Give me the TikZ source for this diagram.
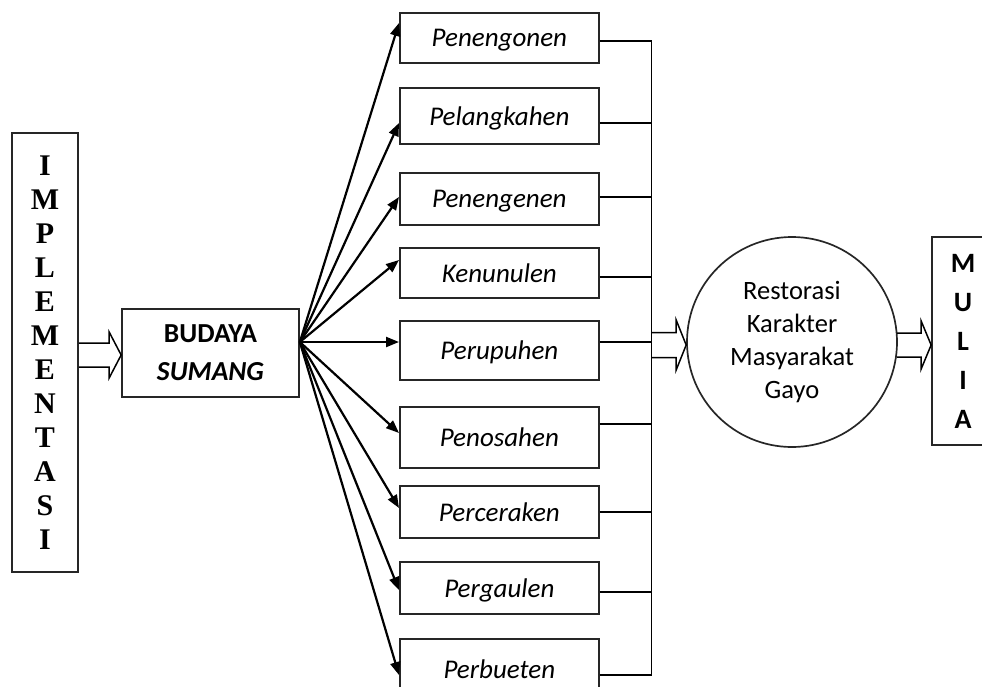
\documentclass[tikz,border=0pt]{standalone}
\usepackage{fontspec}
\setmainfont{Carlito}
\newfontfamily\tnr{Liberation Serif}
\usetikzlibrary{calc,arrows.meta}
\begin{document}
\begin{tikzpicture}[x=1pt,y=-1pt,
  lw/.style={line width=1.7pt,draw=black!85},
  mbox/.style={lw,rectangle,anchor=north west,minimum width=199pt,inner sep=0pt,text depth=0pt,font=\fontsize{27}{30}\selectfont\itshape},
  fan/.style={line width=2.2pt,-{Triangle[length=13pt,width=10pt]}},
  conn/.style={line width=1.5pt}]
\useasboundingbox (0,0) rectangle (982,687);
% left box
\node[lw,rectangle,minimum width=66pt,minimum height=439pt,inner sep=0pt,align=center,
  font=\tnr\bfseries\fontsize{30}{34}\selectfont] (impl) at (45,352.5)
  {I\\M\\P\\L\\E\\M\\E\\N\\T\\A\\S\\I};
\node[lw,rectangle,minimum width=177pt,minimum height=88pt,inner sep=0pt,align=center,
  font=\bfseries\fontsize{27.5}{38}\selectfont] (bud) at (210.5,353) {BUDAYA\\\textit{SUMANG}};
% middle boxes
\node[mbox,minimum height=50pt] (b1) at (399,12) {Penengonen};
\node[mbox,minimum height=56pt] (b2) at (399,87) {Pelangkahen};
\node[mbox,minimum height=52pt] (b3) at (399,172) {Penengenen};
\node[mbox,minimum height=50pt] (b4) at (399,247) {Kenunulen};
\node[mbox,minimum height=59pt] (b5) at (399,320) {Perupuhen};
\node[mbox,minimum height=61pt] (b6) at (399,406) {Penosahen};
\node[mbox,minimum height=52pt] (b7) at (399,485) {Perceraken};
\node[mbox,minimum height=52pt] (b8) at (399,561) {Pergaulen};
\node[mbox,minimum height=60pt] (b9) at (399,638) {Perbueten};
% circle and right box
\node[lw,circle,minimum size=210pt,inner sep=0pt,align=center,
  font=\fontsize{26.5}{33}\selectfont] (circ) at (792,342)
  {Restorasi\\Karakter\\Masyarakat\\Gayo};
\node[lw,rectangle,minimum width=62pt,minimum height=208pt,inner sep=0pt,align=center,
  font=\bfseries\fontsize{28}{39}\selectfont] (mulia) at (963,341) {M\\U\\L\\I\\A};
% fan arrows
\coordinate (src) at ($(bud.east)+(0,-11)$);
\foreach \i/\o in {1/11,2/36,3/25,4/13,5/22,6/27,7/23,8/29,9/37}
  \draw[fan] (src) -- ($(b\i.north west)+(0,\o)$);
% connectors to bus
\foreach \i/\o in {1/29,2/36,3/25,4/30,5/22,6/18,7/27,8/31,9/37}
  \draw[conn] ($(b\i.north east)+(0,\o)$) -- +(52,0);
\coordinate (busTop) at ($(b1.north east)+(52,29)$);
\coordinate (busBot) at ($(b9.north east)+(52,37)$);
\draw[conn] (busTop) -- (busBot);
% hollow arrows
\draw[conn] let \p1=(impl.east), \p2=($(bud.west)+(0,2)$) in
  (\x1,\y2+12pt) -- (\x2-12pt,\y2+12pt) -- (\x2-12pt,\y2+23pt) -- (\x2,\y2)
  -- (\x2-12pt,\y2-23pt) -- (\x2-12pt,\y2-12pt) -- (\x1,\y2-12pt);
\draw[conn] let \p1=(busTop), \p2=($(circ.west)+(0,3)$) in
  (\x1,\y2+12.5pt) -- (\x2-10pt,\y2+12.5pt) -- (\x2-10pt,\y2+25pt) -- (\x2,\y2)
  -- (\x2-10pt,\y2-25pt) -- (\x2-10pt,\y2-12.5pt) -- (\x1,\y2-12.5pt);
\draw[conn] let \p1=(circ.east), \p2=($(mulia.west)+(0,4)$) in
  (\x1-1pt,\y2+12pt) -- (\x2-10pt,\y2+12pt) -- (\x2-10pt,\y2+24pt) -- (\x2,\y2)
  -- (\x2-10pt,\y2-24pt) -- (\x2-10pt,\y2-12pt) -- (\x1-1pt,\y2-12pt);
\end{tikzpicture}
\end{document}
